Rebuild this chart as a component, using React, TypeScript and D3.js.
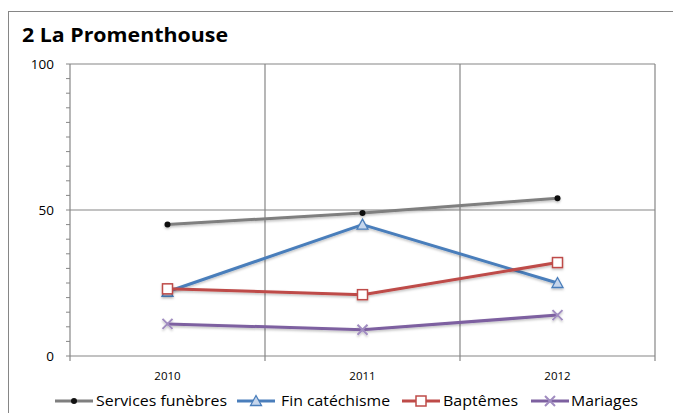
import React from "react";
import * as d3 from "d3";

const years = ["2010", "2011", "2012"];
const servicesFunebres = [45, 49, 54];
const finCatechisme = [22, 45, 25];
const baptemes = [23, 21, 32];
const mariages = [11, 9, 14];
const yTicks = [0, 50, 100];

const W = 673;
const H = 413;
const margin = { left: 70, top: 64, right: 655, bottom: 356 };
const FONT = "'Open Sans', Lato, sans-serif";

type Series = { name: string; values: number[]; color: string; marker: string };

const series: Series[] = [
  { name: "Services funèbres", values: servicesFunebres, color: "#7f7f7f", marker: "dot" },
  { name: "Fin catéchisme", values: finCatechisme, color: "#4a7ebb", marker: "triangle" },
  { name: "Baptêmes", values: baptemes, color: "#be4b48", marker: "square" },
  { name: "Mariages", values: mariages, color: "#7d60a0", marker: "x" },
];

function Marker({ type, x, y }: { type: string; x: number; y: number }) {
  if (type === "dot") return <circle cx={x} cy={y} r={3} fill="#111" />;
  if (type === "triangle")
    return (
      <path
        d={`M${x},${y - 5.5}L${x + 5.5},${y + 4.5}L${x - 5.5},${y + 4.5}Z`}
        fill="#c6d6ec"
        stroke="#4a7ebb"
        strokeWidth={1.3}
      />
    );
  if (type === "square")
    return <rect x={x - 5} y={y - 5} width={10} height={10} fill="#fff" stroke="#be4b48" strokeWidth={1.5} />;
  return (
    <path
      d={`M${x - 5},${y - 5}L${x + 5},${y + 5}M${x - 5},${y + 5}L${x + 5},${y - 5}`}
      stroke="#a08cc0"
      strokeWidth={2}
    />
  );
}

export default function App() {
  const x = d3.scaleBand<string>().domain(years).range([margin.left, margin.right]);
  const y = d3.scaleLinear().domain([0, 100]).range([margin.bottom, margin.top]);
  const minor = d3.range(0, 101, 5);
  const boundaries = [margin.left, ...years.map((yr) => (x(yr) as number) + x.bandwidth())];
  const line = d3
    .line<number>()
    .x((_, i) => (x(years[i]) as number) + x.bandwidth() / 2)
    .y((v) => y(v));

  // legend entry layout: line sample start, text start, text width
  const legendItems = [
    { lx: 55, tx: 96, tw: 131 },
    { lx: 237, tx: 281, tw: 109 },
    { lx: 402, tx: 443, tw: 75 },
    { lx: 531, tx: 571, tw: 67 },
  ];

  return (
    <svg
      width={W}
      height={H}
      style={{ position: "absolute", left: 0, top: 0, background: "#fff" }}
      fontFamily={FONT}
    >
      <defs>
        <filter id="sh" x="-10%" y="-10%" width="120%" height="130%">
          <feDropShadow dx={0} dy={1.5} stdDeviation={1} floodColor="#000" floodOpacity={0.25} />
        </filter>
      </defs>
      {/* chart frame */}
      <rect x={8.5} y={11.5} width={W + 10} height={H + 10} fill="#fff" stroke="#868686" strokeWidth={1} />
      <text x={22} y={42} fontSize={19} fontWeight="bold" fill="#000" textLength={206} lengthAdjust="spacingAndGlyphs">
        2 La Promenthouse
      </text>

      {/* gridlines */}
      {yTicks.filter((t) => t > 0).map((t) => (
        <line key={t} x1={margin.left} x2={margin.right} y1={y(t)} y2={y(t)} stroke="#868686" strokeWidth={1.2} />
      ))}
      {boundaries.slice(1).map((b, i) => (
        <line key={i} x1={b} x2={b} y1={margin.top} y2={margin.bottom} stroke="#868686" strokeWidth={1.2} />
      ))}

      {/* y axis */}
      <line x1={margin.left} x2={margin.left} y1={margin.top} y2={margin.bottom} stroke="#868686" strokeWidth={1.2} />
      {minor.map((t) => (
        <line key={t} x1={margin.left - 4} x2={margin.left} y1={y(t)} y2={y(t)} stroke="#868686" />
      ))}
      {yTicks.map((t) => (
        <text key={t} x={54} y={y(t) + 5} textAnchor="end" fontSize={13.5} fill="#000">
          {t}
        </text>
      ))}

      {/* x axis */}
      <line x1={margin.left} x2={margin.right} y1={margin.bottom} y2={margin.bottom} stroke="#868686" strokeWidth={1.2} />
      {boundaries.map((b, i) => (
        <line key={i} x1={b} x2={b} y1={margin.bottom} y2={margin.bottom + 5} stroke="#868686" strokeWidth={1.2} />
      ))}
      {years.map((yr) => (
        <text
          key={yr}
          x={(x(yr) as number) + x.bandwidth() / 2}
          y={380}
          textAnchor="middle"
          fontSize={11.5}
          fill="#000"
        >
          {yr}
        </text>
      ))}

      {/* series */}
      {series.map((s) => (
        <g key={s.name} filter="url(#sh)">
          <path d={line(s.values) || ""} fill="none" stroke={s.color} strokeWidth={3} strokeLinejoin="round" />
          {s.values.map((v, i) => (
            <Marker key={i} type={s.marker} x={(x(years[i]) as number) + x.bandwidth() / 2} y={y(v)} />
          ))}
        </g>
      ))}

      {/* legend */}
      {series.map((s, i) => {
        const it = legendItems[i];
        return (
          <g key={s.name}>
            <line x1={it.lx} x2={it.lx + 38} y1={401} y2={401} stroke={s.color} strokeWidth={3} />
            <Marker type={s.marker} x={it.lx + 19} y={401} />
            <text x={it.tx} y={406} fontSize={14} fill="#000" textLength={it.tw} lengthAdjust="spacingAndGlyphs">
              {s.name}
            </text>
          </g>
        );
      })}
    </svg>
  );
}
